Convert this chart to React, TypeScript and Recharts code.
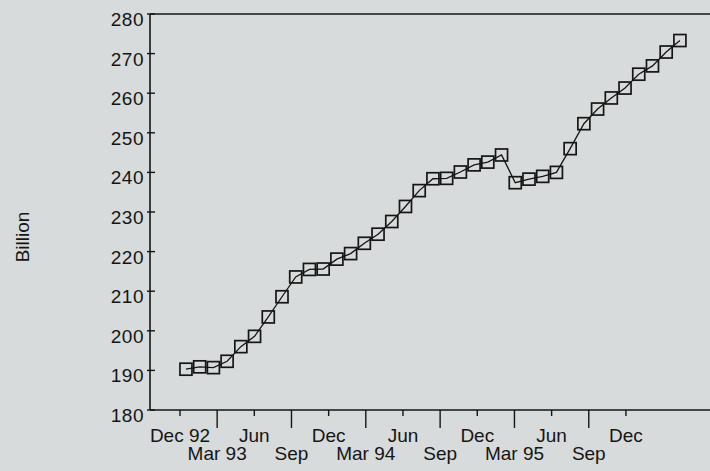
import React from "react";
import { LineChart, Line, XAxis, YAxis, ReferenceLine } from "recharts";

const INK = "#151515";
const PAPER = "#d8dbdb";
const FONT = "'Liberation Sans', Arial, Helvetica, sans-serif";

// monthly values, Dec 92 .. Dec 95 (billions)
const values = [
  190.3, 190.9, 190.7, 192.3, 196.0, 198.6, 203.5, 208.6, 213.6, 215.5,
  215.6, 218.1, 219.5, 222.1, 224.4, 227.6, 231.4, 235.4, 238.4, 238.5,
  240.1, 241.9, 242.6, 244.4, 237.4, 238.3, 239.0, 240.0, 246.0, 252.3,
  256.0, 258.8, 261.3, 264.8, 266.9, 270.4, 273.3,
];

// quarterly axis labels (alternating rows)
const quarterLabels = [
  "Dec 92", "Mar 93", "Jun", "Sep", "Dec", "Mar 94", "Jun",
  "Sep", "Dec", "Mar 95", "Jun", "Sep", "Dec",
];

const yTicks = [180, 190, 200, 210, 220, 230, 240, 250, 260, 270, 280];

const data = values.map((v, i) => ({ m: i, v }));
const quarterTicks = quarterLabels.map((_, i) => i);

function SquareDot(props: any) {
  const { cx, cy } = props;
  if (cx == null || cy == null) return null;
  return (
    <rect
      x={cx - 6}
      y={cy - 6}
      width={12}
      height={12}
      fill="none"
      stroke={INK}
      strokeWidth={1.7}
    />
  );
}

function QuarterTick(props: any) {
  const { x, y, payload } = props;
  const lower = payload.index % 2 === 1;
  return (
    <g>
      <line x1={x} y1={y} x2={x} y2={y + (lower ? 18 : 6)} stroke={INK} strokeWidth={1.4} />
      <text
        x={x}
        y={y + (lower ? 50 : 32)}
        textAnchor="middle"
        fontSize={19}
        fontFamily={FONT}
        fill={INK}
      >
        {quarterLabels[payload.value]}
      </text>
    </g>
  );
}

function ValueTick(props: any) {
  const { x, y, payload } = props;
  return (
    <g>
      <line x1={x - 3} y1={y} x2={x + 5} y2={y} stroke={INK} strokeWidth={1.4} />
      <text
        x={x - 6}
        y={y + 12}
        textAnchor="end"
        fontSize={19}
        letterSpacing={0.5}
        fontFamily={FONT}
        fill={INK}
      >
        {payload.value}
      </text>
    </g>
  );
}

function BillionLabel(props: any) {
  const { viewBox } = props;
  const x = viewBox.x + 22;
  const y = viewBox.y + 223;
  return (
    <text
      x={x}
      y={y}
      transform={`rotate(-90 ${x} ${y})`}
      textAnchor="middle"
      dominantBaseline="central"
      fontSize={19}
      fontFamily={FONT}
      fill={INK}
    >
      Billion
    </text>
  );
}

export default function App() {
  return (
    <div
      style={{
        position: "absolute",
        left: 0,
        top: 0,
        width: 710,
        height: 471,
        overflow: "hidden",
        background: PAPER,
      }}
    >
      <LineChart
        width={730}
        height={471}
        data={data}
        margin={{ top: 14, right: 0, bottom: 0, left: 0 }}
      >
        <XAxis
          xAxisId="m"
          dataKey="m"
          type="number"
          domain={[-2.62, 39.65]}
          allowDataOverflow
          height={0}
          hide
        />
        <XAxis
          xAxisId="q"
          dataKey="q"
          type="number"
          domain={[-0.807, 14.8]}
          allowDataOverflow
          ticks={quarterTicks}
          interval={0}
          height={61}
          tickSize={0}
          tickMargin={0}
          tickLine={false}
          axisLine={{ stroke: INK, strokeWidth: 1.6 }}
          tick={<QuarterTick />}
        />
        <YAxis
          domain={[180, 280]}
          ticks={yTicks}
          interval={0}
          width={150}
          tickSize={0}
          tickMargin={0}
          tickLine={false}
          axisLine={{ stroke: INK, strokeWidth: 1.6 }}
          tick={<ValueTick />}
          label={<BillionLabel />}
        />
        <ReferenceLine xAxisId="m" y={280} stroke={INK} strokeWidth={1.6} />
        <Line
          xAxisId="m"
          dataKey="v"
          type="linear"
          stroke={INK}
          strokeWidth={1.3}
          dot={<SquareDot />}
          activeDot={false}
          isAnimationActive={false}
        />
      </LineChart>
    </div>
  );
}
